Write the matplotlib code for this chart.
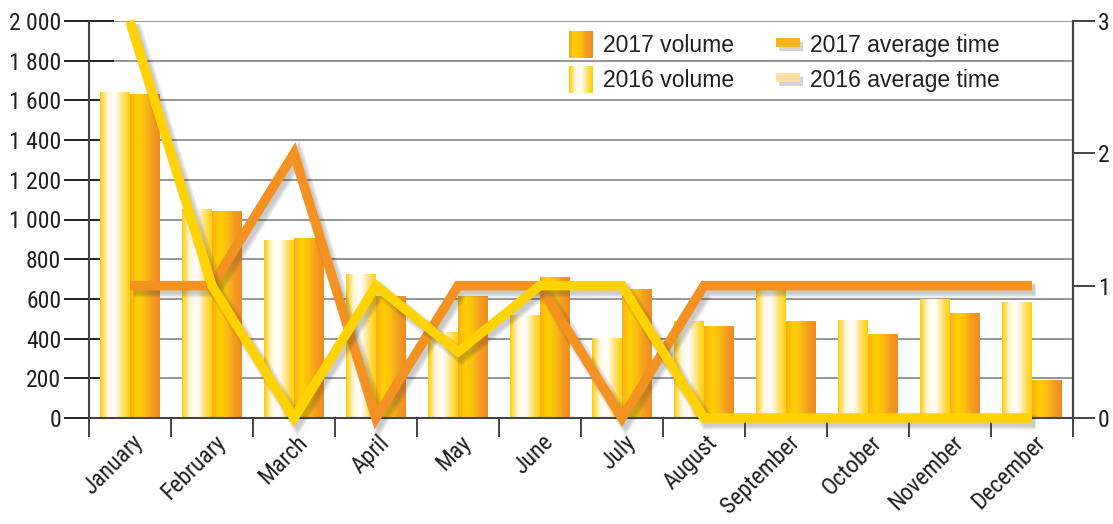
import numpy as np
import matplotlib

matplotlib.use("Agg")
import matplotlib.pyplot as plt
import matplotlib.patheffects as pe
from matplotlib import font_manager as fm
from matplotlib.colors import LinearSegmentedColormap
from matplotlib.legend_handler import HandlerBase
from matplotlib.patches import Rectangle
from matplotlib.ticker import FuncFormatter
from matplotlib.transforms import ScaledTranslation

months = ["January", "February", "March", "April", "May", "June", "July",
          "August", "September", "October", "November", "December"]
volume_2016 = [1640, 1055, 895, 725, 433, 519, 403, 489, 655, 494, 600, 584]
volume_2017 = [1632, 1043, 907, 615, 615, 710, 650, 463, 489, 423, 529, 191]
avg_time_2016 = [3, 1, 0, 1, 0.5, 1, 1, 0, 0, 0, 0, 0]
avg_time_2017 = [1, 1, 2, 0, 1, 1, 0, 1, 1, 1, 1, 1]

ORANGE = "#F39221"
YELLOW = "#FFD200"
GRID = "#8c8c8c"
AXIS = "#444444"
TEXT = "#231F20"
STOPS_2016 = ["#FFCC00", "#FFF6DA", "#FFFFFF", "#FFE27A", "#FFD000"]
STOPS_2017 = ["#F8AE1B", "#FFD000", "#FBBE14", "#F39C20", "#F18A22"]
PX = 72 / 100  # points per pixel at dpi 100


def pick_narrow():
    # any condensed / narrow sans face, upright, regular weight (Roboto Condensed here)
    found = []
    for f in fm.fontManager.ttflist:
        n = f.name.lower()
        narrow = ("narrow" in n or "condensed" in n or "condensed" in str(f.stretch)
                  or "condensed" in f.fname.lower())
        if narrow and f.style == "normal" and f.weight in (400, "normal", "regular"):
            found.append(f)
    if not found:
        return None
    order = ["liberation sans narrow", "roboto condensed", "dejavu sans", "open sans", "noto sans"]
    found.sort(key=lambda f: next((i for i, o in enumerate(order) if o in f.name.lower()), 99))
    return found[0].fname


narrow_file = pick_narrow()


def narrow_fp(size):
    if narrow_file:
        return fm.FontProperties(fname=narrow_file, size=size)
    return fm.FontProperties(family="Liberation Sans", size=size, stretch="condensed")


def gradient_fill(ax, bars, stops):
    cmap = LinearSegmentedColormap.from_list("g", stops)
    grad = np.linspace(0, 1, 256).reshape(1, -1)
    for b in bars:
        x, y, w, h = b.get_x(), b.get_y(), b.get_width(), b.get_height()
        b.set_facecolor("none")
        b.set_edgecolor("none")
        im = ax.imshow(grad, cmap=cmap, extent=(x, x + w, y, y + h), aspect="auto",
                       origin="lower", interpolation="bilinear", zorder=2)
        im.set_clip_path(b)


class GradientSwatch(HandlerBase):
    def __init__(self, stops):
        super().__init__()
        self.stops = stops

    def create_artists(self, legend, orig, xd, yd, width, height, fontsize, trans):
        cmap = LinearSegmentedColormap.from_list("g", self.stops)
        n = 24
        out = []
        for i in range(n):
            out.append(Rectangle((-xd + width * i / n, -yd), width / n + 0.3, height,
                                 facecolor=cmap(i / (n - 1)), edgecolor="none", transform=trans))
        return out


class BarSwatch(HandlerBase):
    def __init__(self, color):
        super().__init__()
        self.color = color

    def create_artists(self, legend, orig, xd, yd, width, height, fontsize, trans):
        h = height * 0.32
        y0 = -yd + height * 0.42
        shadow = Rectangle((-xd + 2, y0 - 3), width, h, facecolor="#777777", alpha=0.3,
                           edgecolor="none", transform=trans)
        bar = Rectangle((-xd, y0), width, h, facecolor=self.color, edgecolor="none", transform=trans)
        return [shadow, bar]


fig = plt.figure(figsize=(11.13, 5.24), dpi=100)
ax = fig.add_axes([89 / 1113, 1 - 418 / 524, (1073 - 89) / 1113, (418 - 21) / 524])
x = np.arange(len(months))
w = 0.36

b16 = ax.bar(x - w / 2, volume_2016, w, zorder=2)
b17 = ax.bar(x + w / 2, volume_2017, w, zorder=2)
gradient_fill(ax, b16, STOPS_2016)
gradient_fill(ax, b17, STOPS_2017)

ax.set_xlim(-0.5, 11.5)
ax.set_ylim(0, 2000)
ax.set_yticks(np.arange(0, 2001, 200))
ax.yaxis.set_major_formatter(FuncFormatter(lambda v, p: f"{v:,.0f}".replace(",", " ")))
ax.yaxis.grid(True, color=GRID, lw=1.3)
ax.set_axisbelow(True)
ax.tick_params(axis="y", which="major", direction="inout", length=50 * PX, width=1.4,
               color="#222222", pad=2, labelcolor=TEXT)
for lab in ax.get_yticklabels():
    lab.set_fontproperties(narrow_fp(17))

ax.set_xticks(x)
ax.set_xticks(np.arange(-0.5, 12, 1), minor=True)
ax.tick_params(axis="x", which="major", length=0, pad=15)
ax.tick_params(axis="x", which="minor", direction="out", length=19 * PX, width=1.4, color=AXIS)
ax.set_xticklabels(months, rotation=45, ha="right", va="center", rotation_mode="anchor",
                   color=TEXT)
shift = ScaledTranslation(10 / 100, 0, fig.dpi_scale_trans)
for lab in ax.get_xticklabels():
    lab.set_fontproperties(narrow_fp(17))
    lab.set_transform(lab.get_transform() + shift)

ax.spines["top"].set_visible(False)
for s in ["left", "right", "bottom"]:
    ax.spines[s].set_color(AXIS)
    ax.spines[s].set_linewidth(1.5)

ax2 = ax.twinx()
ax2.set_ylim(0, 3)
ax2.set_yticks([0, 1, 2, 3])
ax2.tick_params(axis="y", direction="out", length=22 * PX, width=1.4, color=AXIS, pad=2,
                labelcolor=TEXT)
for lab in ax2.get_yticklabels():
    lab.set_fontproperties(narrow_fp(17))
for s in ["top", "left", "bottom"]:
    ax2.spines[s].set_visible(False)
ax2.spines["right"].set_color(AXIS)
ax2.spines["right"].set_linewidth(1.5)

# soft drop shadow: a few widening, faint offset copies under each line
shadow = [pe.SimpleLineShadow(offset=(2.5, -3), shadow_color="#333333", alpha=0.09,
                              linewidth=lw * PX) for lw in (15, 12, 9)] + [pe.Normal()]
l17, = ax2.plot(x, avg_time_2017, color=ORANGE, lw=9.5 * PX, solid_capstyle="butt",
                solid_joinstyle="miter", clip_on=False, path_effects=shadow, zorder=3)
l16, = ax2.plot(x, avg_time_2016, color=YELLOW, lw=9.5 * PX, solid_capstyle="butt",
                solid_joinstyle="miter", clip_on=False, path_effects=shadow, zorder=4)

handles = [b17, b16, l17, l16]
labels = ["2017 volume", "2016 volume", "2017 average time", "2016 average time"]
leg = ax2.legend(handles, labels, ncol=2, frameon=False, loc="upper left",
                 bbox_to_anchor=(569 / 1113, 1 - 31 / 524), bbox_transform=fig.transFigure,
                 borderpad=0, borderaxespad=0, handlelength=1.05, handleheight=1.45,
                 handletextpad=0.45, columnspacing=1.8, labelspacing=0.35,
                 prop={"family": ["Liberation Sans", "DejaVu Sans"], "size": 16.5},
                 handler_map={b17: GradientSwatch(STOPS_2017), b16: GradientSwatch(STOPS_2016),
                              l17: BarSwatch("#F7B31A"), l16: BarSwatch("#FFE0A3")})
for t in leg.get_texts():
    t.set_color(TEXT)

fig.savefig("out.png", dpi=100)
